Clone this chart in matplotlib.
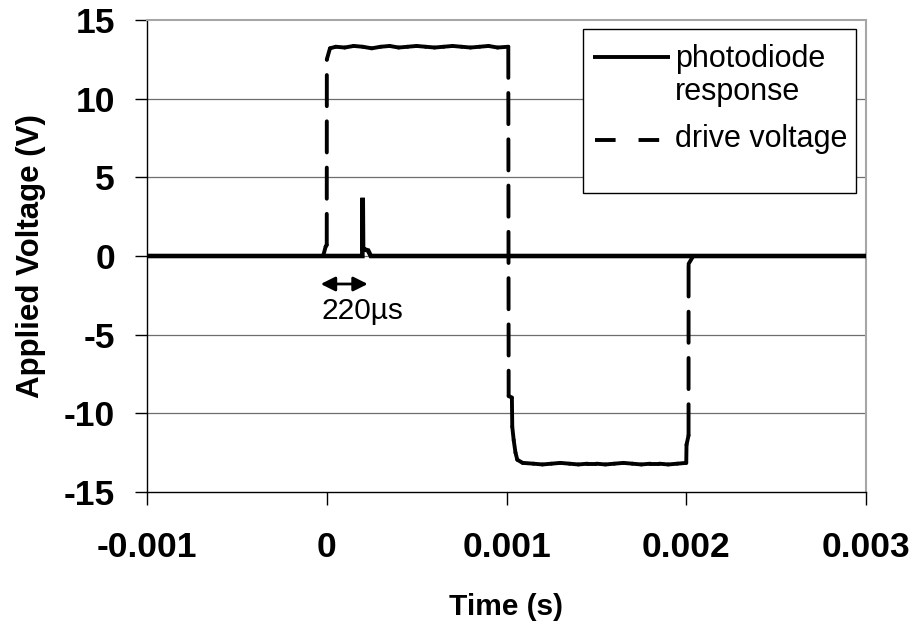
import matplotlib
matplotlib.use("Agg")
import matplotlib.pyplot as plt
from matplotlib.patches import Rectangle
from matplotlib.collections import LineCollection

plt.rcParams['font.family'] = ['Liberation Sans', 'DejaVu Sans']
plt.rcParams['axes.unicode_minus'] = False

# ---- data ----
drive_t = [-0.001, -0.00002, -0.000006, 0.0, 0.0000005, 0.000018,
           0.00005, 0.0001, 0.00015, 0.0002, 0.00025, 0.0003, 0.00035, 0.0004,
           0.00045, 0.0005, 0.00055, 0.0006, 0.00065, 0.0007, 0.00075, 0.0008,
           0.00085, 0.0009, 0.00095, 0.00101,
           0.001012, 0.00103, 0.001032, 0.00104, 0.00105, 0.00106, 0.00109,
           0.00115, 0.0012, 0.00125, 0.0013, 0.00135, 0.0014, 0.00145, 0.0015,
           0.00155, 0.0016, 0.00165, 0.0017, 0.00175, 0.0018, 0.00185, 0.0019,
           0.00195, 0.002, 0.0020015, 0.0020128, 0.002013, 0.002039, 0.003]
drive_v = [0.0, 0.0, 0.6, 0.7, 12.5, 13.2,
           13.3, 13.25, 13.35, 13.3, 13.2, 13.3, 13.35, 13.25,
           13.3, 13.35, 13.3, 13.25, 13.3, 13.35, 13.3, 13.25,
           13.3, 13.35, 13.25, 13.3,
           -8.9, -9.0, -10.85, -11.7, -12.5, -12.95, -13.15,
           -13.2, -13.25, -13.2, -13.15, -13.2, -13.25, -13.2, -13.2,
           -13.25, -13.2, -13.15, -13.2, -13.25, -13.2, -13.2, -13.25,
           -13.2, -13.15, -12.0, -11.4, -0.5, 0.0, 0.0]

pd_t = [-0.001, 0.000198, 0.0002, 0.000202, 0.000215, 0.00023, 0.000245, 0.003]
pd_v = [0.0, 0.0, 3.7, 0.45, 0.4, 0.35, 0.0, 0.0]

x_ticks = [-0.001, 0.0, 0.001, 0.002, 0.003]
x_ticklabels = ['-0.001', '0', '0.001', '0.002', '0.003']
y_ticks = [-15, -10, -5, 0, 5, 10, 15]
y_ticklabels = ['-15', '-10', '-5', '0', '5', '10', '15']
series_labels = ['photodiode', 'response', 'drive voltage']
arrow_span = [-0.0000333, 0.000228]
arrow_label = '220µs'

W, H = 916, 626
fig = plt.figure(figsize=(W / 100, H / 100), dpi=100)
ax = fig.add_axes([147 / W, 1 - 492 / H, 719 / W, 472 / H])

ax.set_xlim(-0.001, 0.003)
ax.set_ylim(-15, 15)

# grid
for yv in y_ticks[1:-1]:
    ax.axhline(yv, color='#6e6e6e', lw=0.9, zorder=1)

# drive voltage: dash pattern restarts on every segment (as in the source chart)
segs = [[(drive_t[i], drive_v[i]), (drive_t[i + 1], drive_v[i + 1])]
        for i in range(len(drive_t) - 1)]
lc = LineCollection(segs, colors='black', linewidths=2.8,
                    linestyles=[(0, (8.0, 3.9))], zorder=3)
lc.set_capstyle('round')
ax.add_collection(lc)

ax.plot(pd_t, pd_v, color='black', lw=3.3, solid_joinstyle='miter', zorder=4)

# spines
ax.spines['top'].set_color('#a6a6a6')
ax.spines['right'].set_color('#a6a6a6')
ax.spines['top'].set_linewidth(1.5)
ax.spines['right'].set_linewidth(1.5)
ax.spines['left'].set_color('black')
ax.spines['bottom'].set_color('black')
ax.spines['left'].set_linewidth(1.0)
ax.spines['bottom'].set_linewidth(1.0)

ax.set_xticks(x_ticks)
ax.set_xticklabels(x_ticklabels)
ax.set_yticks(y_ticks)
ax.set_yticklabels(y_ticklabels)
ax.tick_params(axis='both', direction='out', length=9, width=1, color='black',
               labelsize=25.5)
ax.tick_params(axis='x', pad=19)
ax.tick_params(axis='y', pad=14)
for lab in ax.get_xticklabels() + ax.get_yticklabels():
    lab.set_fontweight('bold')

ax.set_xlabel('Time (s)', fontsize=21.5, fontweight='bold')
ax.set_ylabel('Applied Voltage (V)', fontsize=22.5, fontweight='bold')
ax.xaxis.set_label_coords(0.5, -0.213)
ax.yaxis.set_label_coords(-0.1405, 0.5)

# arrow annotation
ax.annotate('', xy=(arrow_span[1], -1.78), xytext=(arrow_span[0], -1.78),
            arrowprops=dict(arrowstyle='<|-|>,head_length=0.86,head_width=0.43',
                            mutation_scale=10, color='black', lw=2,
                            shrinkA=0, shrinkB=0))
ax.text(0.0002, -3.5, arrow_label, fontsize=21.5, ha='center', va='center')

# legend (drawn manually to mimic layout)
def ax_fx(px):
    return (px - 147) / 719

def ax_fy(py):
    return (492 - py) / 472

ax.add_patch(Rectangle((ax_fx(583), ax_fy(193)), ax_fx(856) - ax_fx(583),
                       ax_fy(29) - ax_fy(193), transform=ax.transAxes,
                       facecolor='white', edgecolor='black', lw=1.0, zorder=6))
ax.plot([ax_fx(593), ax_fx(670)], [ax_fy(57), ax_fy(57)], transform=ax.transAxes,
        color='black', lw=2.8, zorder=7, solid_capstyle='butt')
ax.plot([ax_fx(595), ax_fx(662)], [ax_fy(140), ax_fy(140)], transform=ax.transAxes,
        color='black', lw=2.8, linestyle=(0, (5.3, 5.9)), dash_capstyle='butt',
        zorder=7)
ax.text(ax_fx(675), ax_fy(59), series_labels[0], transform=ax.transAxes,
        fontsize=22, ha='left', va='center', zorder=8)
ax.text(ax_fx(675), ax_fy(92), series_labels[1], transform=ax.transAxes,
        fontsize=22, ha='left', va='center', zorder=8)
ax.text(ax_fx(675), ax_fy(139), series_labels[2], transform=ax.transAxes,
        fontsize=22, ha='left', va='center', zorder=8)

fig.savefig('out.png', dpi=100)
